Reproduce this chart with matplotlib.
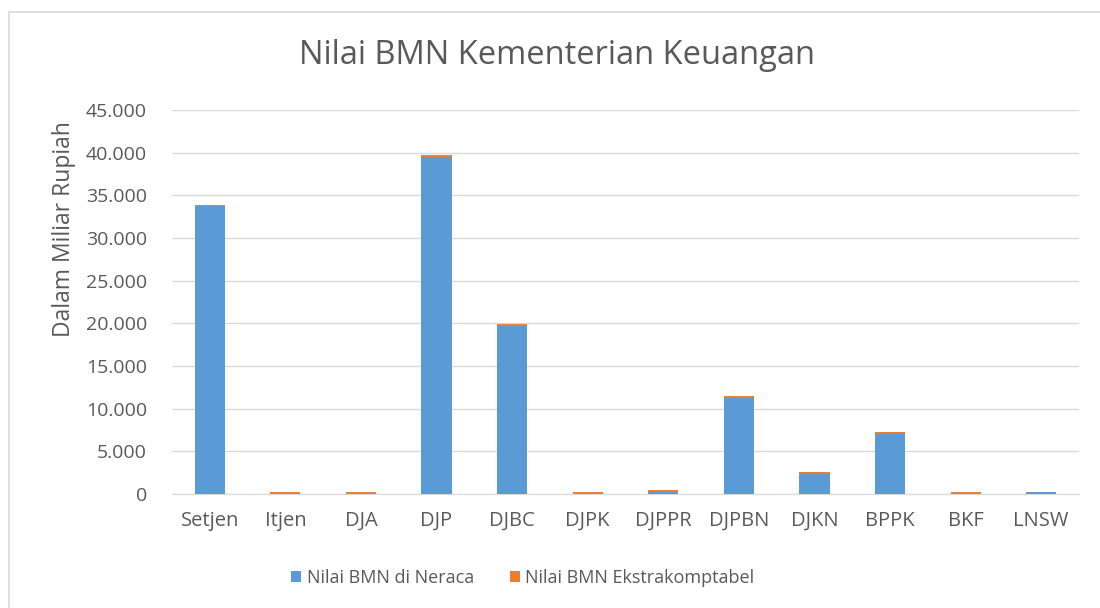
import matplotlib.pyplot as plt
from matplotlib.patches import Rectangle
from matplotlib.ticker import FuncFormatter
import numpy as np

# data (miliar rupiah)
unit = ['Setjen', 'Itjen', 'DJA', 'DJP', 'DJBC', 'DJPK', 'DJPPR',
        'DJPBN', 'DJKN', 'BPPK', 'BKF', 'LNSW']
neraca = [33700, 40, 40, 39500, 19700, 40, 200, 11200, 2300, 7030, 30, 220]
ekstra = [220, 200, 200, 220, 200, 200, 230, 250, 220, 230, 200, 40]

plt.rcParams['font.family'] = ['Open Sans', 'DejaVu Sans']

fig = plt.figure(figsize=(11, 6.08), dpi=100)
ax = fig.add_axes([172 / 1100, 1 - 494 / 608, 907 / 1100, 384 / 608])

x = np.arange(len(unit))
ax.bar(x, neraca, width=0.4, color='#5b9bd5', label='Nilai BMN di Neraca', zorder=3)
ax.bar(x, ekstra, width=0.4, bottom=neraca, color='#ed7d31',
       label='Nilai BMN Ekstrakomptabel', zorder=3)

ax.set_xlim(-0.5, len(unit) - 0.5)
ax.set_ylim(0, 45000)
ax.set_yticks(range(0, 45001, 5000))
ax.yaxis.set_major_formatter(FuncFormatter(lambda v, p: f'{int(v):,}'.replace(',', '.')))
ax.set_xticks(x)
ax.set_xticklabels(unit)
ax.tick_params(length=0, labelsize=14, colors='#595959')
ax.tick_params(axis='x', pad=12, labelsize=14.5)
ax.tick_params(axis='y', pad=18)
ax.grid(axis='y', color='#d9d9d9', linewidth=1, zorder=0)
for s in ['top', 'right', 'left']:
    ax.spines[s].set_visible(False)
ax.spines['bottom'].set_color('#d9d9d9')

ax.set_ylabel('Dalam Miliar Rupiah', fontsize=16.5, color='#595959', labelpad=6)
ax.yaxis.set_label_coords(-0.106, 0.69)
fig.text(0.506, 1 - 55 / 608, 'Nilai BMN Kementerian Keuangan', fontsize=23.5,
         color='#595959', ha='center', va='center')

ax.legend(loc='center', bbox_to_anchor=(523 / 1100, 1 - 578 / 608), bbox_transform=fig.transFigure,
          ncol=2, frameon=False, fontsize=13, labelcolor='#595959',
          handlelength=0.55, handleheight=0.55, handletextpad=0.3, columnspacing=2.0)

fig.patches.append(Rectangle((9 / 1100, -0.1), 1.2, 1 - 12 / 608 + 0.1, transform=fig.transFigure,
                             fill=False, edgecolor='#d9d9d9', linewidth=1.2))

fig.savefig('out.png', dpi=100)
